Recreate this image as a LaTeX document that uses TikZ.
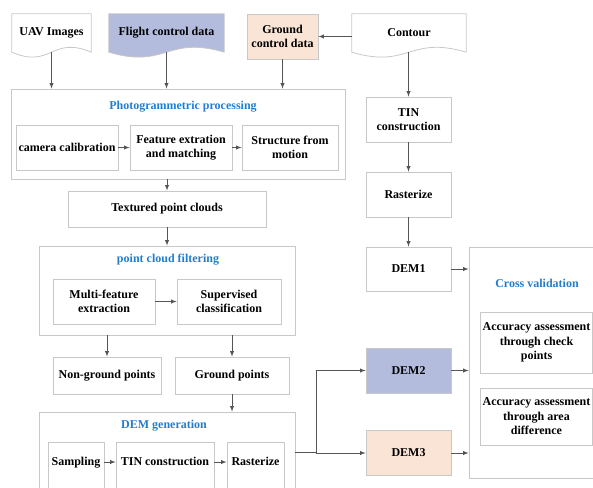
\documentclass[tikz,border=0pt]{standalone}
\usepackage{fontspec}
\setmainfont{Liberation Serif}
\usetikzlibrary{arrows,calc}
\pgfdeclarelayer{background}
\pgfsetlayers{background,main}
\definecolor{dem_blue}{RGB}{180,188,222}
\definecolor{dem_peach}{RGB}{249,228,213}
\definecolor{box_gray}{RGB}{200,200,200}
\definecolor{arr_gray}{RGB}{85,85,85}
\definecolor{title_blue}{RGB}{35,125,205}
\tikzstyle{box}=[rectangle,draw=box_gray,line width=0.8pt,inner sep=2pt,align=center]
\tikzstyle{grp}=[rectangle,draw=box_gray,line width=0.8pt]
\tikzstyle{ttl}=[text=title_blue]
\tikzstyle{doc}=[rectangle,inner sep=2pt,align=center]
\tikzstyle{lbl}=[text height=8.5pt,text depth=2.5pt,inner sep=0pt]
\tikzstyle{arr}=[draw=arr_gray,line width=0.9pt,-latex]
\newcommand{\docpath}[2]{\filldraw[draw=box_gray,line width=0.8pt,fill=#2]
  (#1.north west) -- (#1.north east) -- (#1.south east)
  .. controls ($(#1.south)+(0,-17)$) and ($(#1.south)+(0,17)$) .. (#1.south west) -- cycle;}

\begin{document}
\begin{tikzpicture}[x=1pt, y=-1pt, font=\fontsize{12}{14.5}\selectfont\bfseries]
    \useasboundingbox (0,0) rectangle (593,487);
    \clip (0,0) rectangle (593,487);
    \node [style=doc, minimum width=79, minimum height=38] (uav) at (51.5, 33) {UAV Images};
    \node [style=doc, minimum width=115, minimum height=38] (flight) at (166.5, 33) {Flight control data};
    \node [style=box, fill=dem_peach, minimum width=71, minimum height=45] (gcp) at (282.5, 36.5) {Ground\\control data};
    \node [style=doc, minimum width=114, minimum height=38] (contour) at (409, 33) {Contour};
    \begin{pgfonlayer}{background}
    \docpath{uav}{white}
    \docpath{flight}{dem_blue}
    \docpath{contour}{white}
    \end{pgfonlayer}
    \node [style=grp, minimum width=334, minimum height=90] (photo) at (178, 134) {};
    \node [style=ttl] (phototitle) at (183, 107) {Photogrammetric processing};
    \node [style=box, minimum width=102, minimum height=45] (cam) at (67, 147.5) {camera calibration};
    \node [style=box, minimum width=102, minimum height=45] (feat) at (181, 147.5) {Feature extration\\and matching};
    \node [style=box, minimum width=96, minimum height=45] (sfm) at (290, 147.5) {Structure from\\motion};
    \node [style=box, minimum width=198, minimum height=36] (tex) at (167, 209) {Textured point clouds};
    \node [style=grp, minimum width=256, minimum height=89] (filter) at (167, 290.5) {};
    \node [style=ttl] (filtertitle) at (168, 260) {point cloud filtering};
    \node [style=box, minimum width=102, minimum height=45] (multi) at (104, 301.5) {Multi-feature\\extraction};
    \node [style=box, minimum width=104, minimum height=45] (sup) at (229, 301.5) {Supervised\\classification};
    \node [style=box, minimum width=108, minimum height=37] (nong) at (107, 375.5) {Non-ground points};
    \node [style=box, minimum width=114, minimum height=37] (grnd) at (232, 375.5) {Ground points};
    \node [style=grp, minimum width=256, minimum height=80] (demgen) at (167, 452) {};
    \node [style=ttl] (demgentitle) at (164, 426) {DEM generation};
    \node [style=box, minimum width=56, minimum height=46] (samp) at (76, 465) {};
    \node [style=lbl] (samptext) at (76, 462) {Sampling};
    \node [style=box, minimum width=98, minimum height=46] (tin2) at (165, 465) {};
    \node [style=lbl] (tin2text) at (165, 462) {TIN construction};
    \node [style=box, minimum width=57, minimum height=46] (rast2) at (255.5, 465) {};
    \node [style=lbl] (rast2text) at (255.5, 462) {Rasterize};
    \node [style=box, minimum width=85, minimum height=45] (tin1) at (408.5, 119.5) {TIN\\construction};
    \node [style=box, minimum width=85, minimum height=45] (rast1) at (408.5, 194.5) {Rasterize};
    \node [style=box, minimum width=85, minimum height=44] (dem1) at (408.5, 269) {DEM1};
    \node [style=box, fill=dem_blue, minimum width=85, minimum height=45] (dem2) at (408.5, 370.5) {DEM2};
    \node [style=box, fill=dem_peach, minimum width=85, minimum height=45] (dem3) at (408.5, 453) {DEM3};
    \node [style=grp, minimum width=151, minimum height=231] (cross) at (544.5, 362.5) {};
    \node [style=ttl] (crosstitle) at (537, 283) {Cross validation};
    \node [style=box, minimum width=111, minimum height=61] (acc1) at (536.5, 342.5) {Accuracy assessment\\through check\\points};
    \node [style=box, minimum width=112, minimum height=57] (acc2) at (536.5, 416.5) {Accuracy assessment\\through area\\difference};
    \coordinate (br) at (316, 452);
    \draw [style=arr] (uav.south) to (uav.south |- photo.north);
    \draw [style=arr] (flight.south) to (flight.south |- photo.north);
    \draw [style=arr] (gcp.south) to (gcp.south |- photo.north);
    \draw [style=arr] (contour.west |- gcp.east) to (gcp.east);
    \draw [style=arr] (contour.south -| tin1.north) to (tin1.north);
    \draw [style=arr] (cam) to (feat);
    \draw [style=arr] (feat) to (sfm);
    \draw [style=arr] (tex.north |- photo.south) to (tex.north);
    \draw [style=arr] (tex.south) to (tex.south |- filter.north);
    \draw [style=arr] (multi) to (sup);
    \draw [style=arr] (nong.north |- filter.south) to (nong.north);
    \draw [style=arr] (grnd.north |- filter.south) to (grnd.north);
    \draw [style=arr] (grnd.south) to (grnd.south |- demgen.north);
    \draw [style=arr] (samp.east |- samptext) to (tin2.west |- samptext);
    \draw [style=arr] (tin2.east |- tin2text) to (rast2.west |- tin2text);
    \draw [style=arr] (tin1) to (rast1);
    \draw [style=arr] (rast1) to (dem1);
    \draw [style=arr] (demgen.east) -- (br) |- (dem2.west);
    \draw [style=arr] (br) to (br |- dem3.west) to (dem3.west);
    \draw [style=arr] (dem1.east) to (dem1.east -| cross.west);
    \draw [style=arr] (dem2.east) to (dem2.east -| cross.west);
    \draw [style=arr] (dem3.east) to (dem3.east -| cross.west);
\end{tikzpicture}
\end{document}
